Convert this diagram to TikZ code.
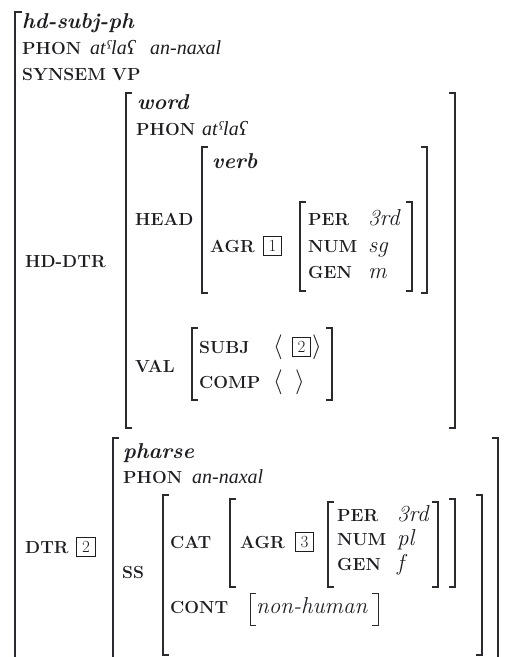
\documentclass[tikz,border=0pt]{standalone}
\usepackage{fontspec}
\usepackage{xcolor}
\newfontfamily\phonfont{Liberation Serif}
\definecolor{ink}     {HTML}{1E1E22}
\definecolor{brkInk}  {HTML}{2A2A30}
\usetikzlibrary{positioning}
\tikzset{
    avmfeat/.style={anchor=base west, inner sep=0pt, text=ink,
                    font=\fontsize{17.5}{20}\selectfont\bfseries},
    avmtype/.style={anchor=base west, inner sep=0pt, text=ink,
                    font=\fontsize{21.5}{25}\selectfont\bfseries\itshape},
    avmval/.style={anchor=base west, inner sep=0pt, text=ink,
                   font=\fontsize{23}{27}\selectfont\itshape},
    avmphon/.style={anchor=base west, inner sep=0pt, text=ink,
                    font=\fontsize{20}{24}\selectfont\phonfont\itshape},
    avmtag/.style={draw=ink, line width=1.2pt, minimum size=18.5pt,
                   inner sep=0pt, text=ink,
                   font=\fontsize{17}{19}\selectfont},
}
% left and right bracket of one feature structure
\newcommand{\fsbrk}[5][avmbrk]{%
    \draw[#1] (#2+6,#4) -- (#2,#4) -- (#2,#5) -- (#2+6,#5);
    \draw[#1] (#3-6,#4) -- (#3,#4) -- (#3,#5) -- (#3-6,#5);}

\begin{document}
\begin{tikzpicture}[
    x=1pt, y=-1pt,
    avmbrk/.style={line width=1.4pt, brkInk},
    avmbrkthin/.style={line width=0.9pt, brkInk},
]
\useasboundingbox (0,0) rectangle (507,657);

% --- outer structure: hd-subj-ph ---
\draw[avmbrk] (22,12) -- (15,12) -- (15,665);
\node[avmtype] (top-type) at (22,28) {hd-subj-ph};
\node[avmfeat] (top-phon) at (22,54) {PHON};
\node[avmphon] (top-phon1) at (90,54) {atˁlaʕ};
\node[avmphon] (top-phon2) at (150,54) {an-naxal};
\node[avmfeat] (top-synsem) at (22,80) {SYNSEM};
\node[avmfeat] (top-vp) at (112,80) {VP};

% --- HD-DTR: word ---
\node[avmfeat] (hd-lbl) at (25,267) {HD-DTR};
\fsbrk{126}{455}{93}{428}
\node[avmtype] (hd-type) at (137,109) {word};
\node[avmfeat] (hd-phon) at (136,135) {PHON};
\node[avmphon] (hd-phonval) at (202,135) {atˁlaʕ};

\node[avmfeat] (head-lbl) at (135,225) {HEAD};
\fsbrk{202}{427}{147}{293}
\node[avmtype] (head-type) at (212,168) {verb};
\node[avmfeat] (agr1-lbl) at (210,252) {AGR};
\node[avmtag] (tag1) at (272.5,246) {1};
\fsbrk{300}{412}{202}{291}
\node[avmfeat] (per1) at (308,225) {PER};
\node[avmval] (per1-val) at (368,225) {3rd};
\node[avmfeat] (num1) at (308,252) {NUM};
\node[avmval] (num1-val) at (368,252) {sg};
\node[avmfeat] (gen1) at (308,278) {GEN};
\node[avmval] (gen1-val) at (368,278) {m};

\node[avmfeat] (val-lbl) at (135,372) {VAL};
\fsbrk{192}{332}{328}{400}
\node[avmfeat] (subj) at (199,353) {SUBJ};
\node[avmval] (subj-open) at (273,353) {$\langle$};
\node[avmtag] (tag2a) at (301.5,347) {2};
\node[avmval] (subj-close) at (312,353) {$\rangle$};
\node[avmfeat] (comp) at (199,388) {COMP};
\node[avmval] (comp-open) at (273,388) {$\langle$};
\node[avmval] (comp-close) at (295,388) {$\rangle$};

% --- DTR: phrase ---
\node[avmfeat] (dtr-lbl) at (25,553) {DTR};
\node[avmtag] (tag2b) at (86,547) {2};
\draw[avmbrk] (119,438) -- (113,438) -- (113,665);
\draw[avmbrk] (492,438) -- (498,438) -- (498,665);
\node[avmtype] (dtr-type) at (123,458) {pharse};
\node[avmfeat] (dtr-phon) at (123,483) {PHON};
\node[avmphon] (dtr-phonval) at (192,483) {an-naxal};

\node[avmfeat] (ss-lbl) at (122,578) {SS};
\fsbrk{163}{482}{495}{655}
\node[avmfeat] (cat-lbl) at (170,548) {CAT};
\fsbrk{230}{455}{499}{587}
\node[avmfeat] (agr3-lbl) at (240,548) {AGR};
\node[avmtag] (tag3) at (304.5,542) {3};
\fsbrk{328}{438}{502}{587}
\node[avmfeat] (per3) at (337,521) {PER};
\node[avmval] (per3-val) at (397,521) {3rd};
\node[avmfeat] (num3) at (337,545) {NUM};
\node[avmval] (num3-val) at (397,545) {pl};
\node[avmfeat] (gen3) at (337,570) {GEN};
\node[avmval] (gen3-val) at (397,570) {f};

\node[avmfeat] (cont-lbl) at (170,613) {CONT};
\fsbrk[avmbrkthin]{250}{378}{593}{625}
\node[avmval] (cont-val) at (256,613) {non-human};
\end{tikzpicture}
\end{document}
